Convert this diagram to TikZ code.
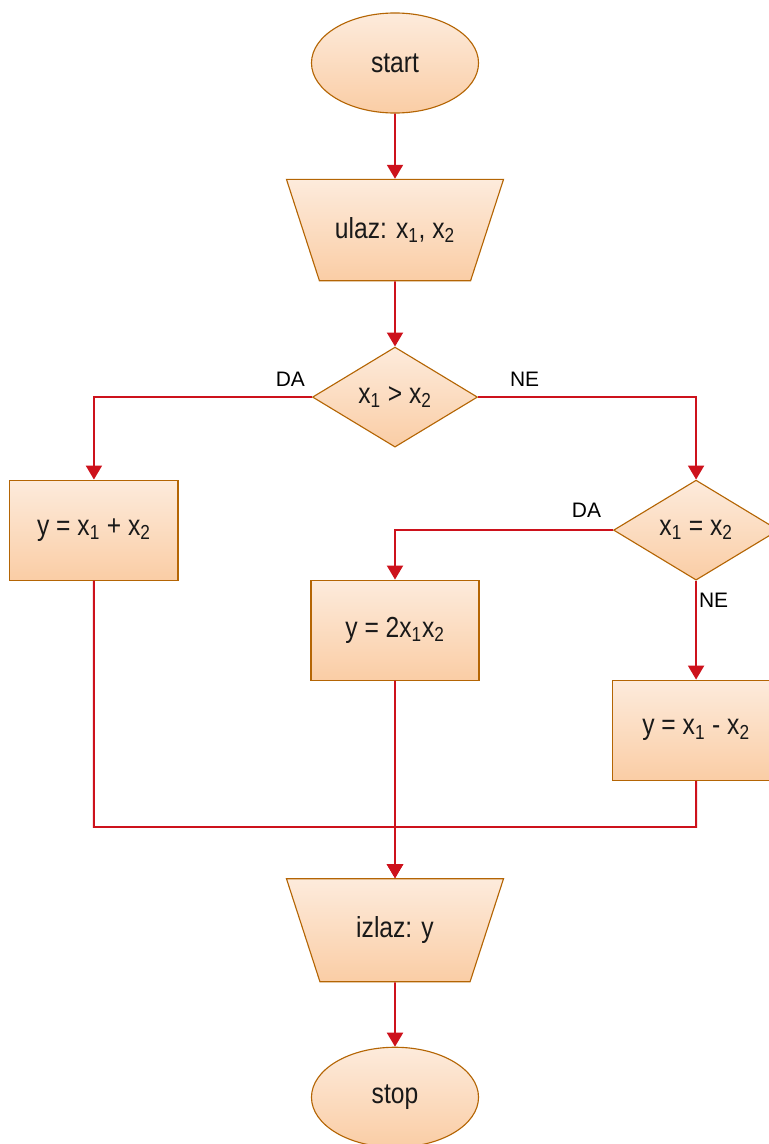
\documentclass[tikz,border=0pt]{standalone}
\usepackage{fontspec}
\setmainfont{Liberation Sans}
\newfontfamily\boxfont[FakeStretch=0.85]{Liberation Sans}
\usetikzlibrary{shapes}
\usetikzlibrary{arrows.meta}
\usetikzlibrary{positioning}

\definecolor{boxtop}{RGB}{253,235,220}
\definecolor{boxbottom}{RGB}{250,205,165}
\definecolor{boxline}{RGB}{180,101,4}
\definecolor{flowred}{RGB}{205,18,28}

\tikzset{
    block/.style = {draw = boxline, line width = 0.8pt, top color = boxtop,
        bottom color = boxbottom, text = black!90, inner sep = 0pt,
        font = \boxfont\fontsize{20.6}{24}\selectfont},
    term/.style = {block, ellipse, minimum width = 4.175cm, minimum height = 2.5cm},
    io/.style = {block, trapezium, shape border rotate = 180,
        trapezium left angle = 72, trapezium right angle = 72, inner ysep = 0.95cm,
        trapezium stretches body = true, minimum width = 5.425cm, minimum height = 2.5cm},
    calcbox/.style = {block, rectangle, minimum width = 4.2cm, minimum height = 2.5cm},
    test/.style = {block, diamond, minimum width = 4.125cm, minimum height = 2.5cm},
    flow/.style = {draw = flowred, line width = 1.4pt,
        -{Triangle[length = 0.35cm, width = 0.4cm]}},
    lbl/.style = {font = \fontsize{14.9}{17}\selectfont, inner sep = 0pt}
}

\begin{document}
\begin{tikzpicture}[x = 0.025cm, y = -0.025cm]
    \useasboundingbox[clip] (0,0) rectangle (769,1144);

    \begin{scope}[on grid]

        \node (start) at (395,63) [term] {start};
        \node (ulaz) [io, below = 4.175cm of start] {ulaz: x\textsubscript{1}, x\textsubscript{2}};
        \node (dec1) [test, below = 4.175cm of ulaz] {x\textsubscript{1} > x\textsubscript{2}};

        \node (box1) [calcbox, below left = 3.325cm and 7.525cm of dec1] {y = x\textsubscript{1} + x\textsubscript{2}};
        \node (dec2) [test, below right = 3.325cm and 7.525cm of dec1] {x\textsubscript{1} = x\textsubscript{2}};
        \node (box2) [calcbox, below = 5.825cm of dec1] {y = 2x\textsubscript{1}x\textsubscript{2}};
        \node (box3) [calcbox, below = 5cm of dec2] {y = x\textsubscript{1} - x\textsubscript{2}};

        \node (izlaz) [io, below = 7.5cm of box2] {izlaz: y};
        \node (stop) [term, below = 4.175cm of izlaz] {stop};

    \end{scope}

    \coordinate (merge) at (395,827);

    % straight arrows
    \foreach \a/\b in {start/ulaz, ulaz/dec1, box2/izlaz, izlaz/stop}{
        \draw[flow] (\a) -- (\b);
    }

    % branches
    \draw[flow] (dec1) -| (box1) node[lbl, pos = 0, anchor = south east, xshift = -0.15cm, yshift = 0.25cm] {DA};
    \draw[flow] (dec1) -| (dec2) node[lbl, pos = 0, anchor = south west, xshift = 0.775cm, yshift = 0.25cm] {NE};
    \draw[flow] (dec2) -| (box2) node[lbl, pos = 0, anchor = south east, xshift = -0.275cm, yshift = 0.3cm] {DA};
    \draw[flow] (dec2) -- (box3) node[lbl, pos = 0, anchor = north west, xshift = 0.05cm, yshift = -0.275cm] {NE};

    % back to output
    \draw[flow] (box1) |- (merge) -- (izlaz);
    \draw[flow] (box3) |- (merge) -- (izlaz);

\end{tikzpicture}
\end{document}
